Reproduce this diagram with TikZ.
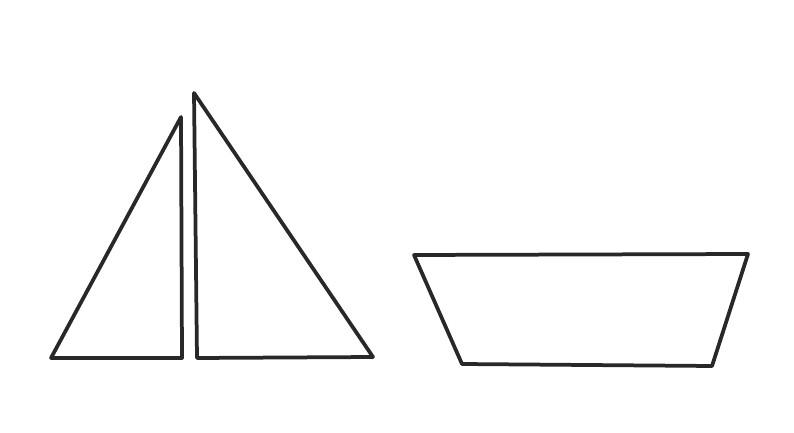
\documentclass[tikz,border=0pt]{standalone}
\usepackage{tikz}

\definecolor{pen}{RGB}{40,40,40}

\begin{document}
\begin{tikzpicture}[x={(0.03cm,0)}, y={(0,-0.03cm)},
                    outline/.style={draw=pen, line width=3.2pt, line join=round, line cap=round}]
    \useasboundingbox (0,0) rectangle (794,433);
    % left triangle
    \draw[outline] (51,358) -- (182,358) -- (181,117) -- cycle;
    % right triangle
    \draw[outline] (194,93) -- (197,358) -- (373,357) -- cycle;
    % trapezoid
    \draw[outline] (414,255) -- (748,254) -- (712,366) -- (462,364) -- cycle;
\end{tikzpicture}
\end{document}
